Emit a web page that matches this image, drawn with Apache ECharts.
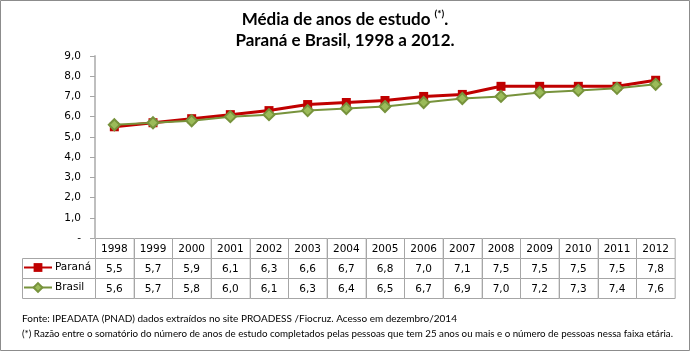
<!DOCTYPE html>
<html>
<head>
<meta charset="utf-8">
<script src="https://cdn.jsdelivr.net/npm/echarts@6/dist/echarts.min.js"></script>
<style>
  html, body { margin: 0; padding: 0; background: #fff; }
  #chart { width: 690px; height: 351px; }
</style>
</head>
<body>
<div id="chart"></div>
<script>
const years = ["1998", "1999", "2000", "2001", "2002", "2003", "2004", "2005", "2006", "2007", "2008", "2009", "2010", "2011", "2012"];
const parana = [5.5, 5.7, 5.9, 6.1, 6.3, 6.6, 6.7, 6.8, 7.0, 7.1, 7.5, 7.5, 7.5, 7.5, 7.8];
const brasil = [5.6, 5.7, 5.8, 6.0, 6.1, 6.3, 6.4, 6.5, 6.7, 6.9, 7.0, 7.2, 7.3, 7.4, 7.6];
const tableRows = ["ano", "Paraná", "Brasil"];

const FONT = "DejaVu Sans";
const gridBorder = "#a6a6a6";

function fmt(v) {
  return v.toFixed(1).replace(".", ",");
}

// cells of the data table under the chart: [column, row, text]
const tableCells = [];
years.forEach((y, i) => {
  tableCells.push([i, 0, y]);
  tableCells.push([i, 1, fmt(parana[i])]);
  tableCells.push([i, 2, fmt(brasil[i])]);
});

function renderCell(params, api) {
  const center = api.coord([api.value(0), api.value(1)]);
  const size = api.size([1, 1]);
  const w = size[0];
  const h = size[1];
  return {
    type: "group",
    children: [
      {
        type: "rect",
        shape: { x: Math.round(center[0] - w / 2) + 0.5, y: Math.round(center[1] - h / 2) + 0.5, width: w, height: h },
        style: { fill: "#fff", stroke: gridBorder, lineWidth: 1 },
      },
      {
        type: "text",
        style: {
          x: center[0],
          y: center[1] + 1,
          text: tableCells[params.dataIndex][2],
          align: "center",
          verticalAlign: "middle",
          font: "10.5px " + FONT,
          fill: "#000",
        },
      },
    ],
  };
}

const chart = echarts.init(document.getElementById("chart"), null, { renderer: "canvas" });

chart.setOption({
  animation: false,
  title: {
    text: "Média de anos de estudo {sup|(*)}.\nParaná e Brasil, 1998 a 2012.",
    left: "center",
    top: 4,
    textStyle: {
      fontFamily: "Lato",
      fontSize: 17,
      fontWeight: "bold",
      color: "#000",
      lineHeight: 21,
      rich: {
        sup: { fontFamily: "Lato", fontSize: 10, fontWeight: "bold", color: "#000", verticalAlign: "top", lineHeight: 21, padding: [0, 0, 0, 0] },
      },
    },
  },
  legend: {
    data: ["Paraná", "Brasil"],
    orient: "vertical",
    left: 23,
    top: 262,
    itemWidth: 28,
    itemHeight: 11,
    itemGap: 9,
    padding: 0,
    textStyle: { fontFamily: FONT, fontSize: 10.5, color: "#000", padding: [1, 0, 0, -2] },
  },
  grid: [
    { left: 95, right: 15, top: 56, height: 182 },
    { left: 95, right: 15, top: 238, height: 60 },
  ],
  xAxis: [
    {
      type: "category",
      data: years,
      boundaryGap: true,
      axisLine: { show: false },
      axisTick: { show: false },
      axisLabel: { show: false },
    },
    {
      type: "category",
      gridIndex: 1,
      data: years,
      show: false,
    },
  ],
  yAxis: [
    {
      type: "value",
      min: 0,
      max: 9,
      interval: 1,
      axisLine: { show: true, lineStyle: { color: "#bfbfbf", width: 2 } },
      axisTick: { show: true, length: 5, lineStyle: { color: "#a6a6a6" } },
      splitLine: { show: false },
      axisLabel: {
        margin: 14,
        fontFamily: FONT,
        fontSize: 10.5,
        color: "#000",
        formatter: (v) => (v === 0 ? "-" : fmt(v)),
      },
    },
    {
      type: "category",
      gridIndex: 1,
      data: tableRows,
      inverse: true,
      show: false,
    },
  ],
  series: [
    {
      name: "Paraná",
      type: "line",
      data: parana,
      symbol: "rect",
      symbolSize: 9,
      lineStyle: { color: "#c00000", width: 3 },
      itemStyle: { color: "#c00000" },
    },
    {
      name: "Brasil",
      type: "line",
      data: brasil,
      symbol: "diamond",
      symbolSize: 11,
      lineStyle: { color: "#77933c", width: 2 },
      itemStyle: { color: "#9bbb59", borderColor: "#77933c", borderWidth: 2 },
    },
    {
      type: "custom",
      xAxisIndex: 1,
      yAxisIndex: 1,
      data: tableCells.map((c) => [c[0], c[1]]),
      renderItem: renderCell,
      silent: true,
    },
  ],
  graphic: [
    { type: "rect", shape: { x: 0.5, y: 0.5, width: 689, height: 350 }, style: { fill: null, stroke: "#8c8c8c", lineWidth: 1 }, z: 100 },
    { type: "rect", shape: { x: 22.5, y: 258.5, width: 73, height: 20 }, style: { fill: null, stroke: gridBorder, lineWidth: 1 }, z: 0 },
    { type: "rect", shape: { x: 22.5, y: 278.5, width: 73, height: 20 }, style: { fill: null, stroke: gridBorder, lineWidth: 1 }, z: 0 },
    {
      type: "text",
      left: 22,
      top: 314,
      style: { text: "Fonte: IPEADATA (PNAD) dados extraídos no site PROADESS /Fiocruz. Acesso em dezembro/2014", font: "10px Lato", fill: "#000" },
    },
    {
      type: "text",
      left: 22,
      top: 329,
      style: { text: "(*) Razão entre o somatório do número de anos de estudo completados pelas pessoas que tem 25 anos ou mais e o número de pessoas nessa faixa etária.", font: "9.75px Lato", fill: "#000" },
    },
  ],
});
</script>
</body>
</html>
